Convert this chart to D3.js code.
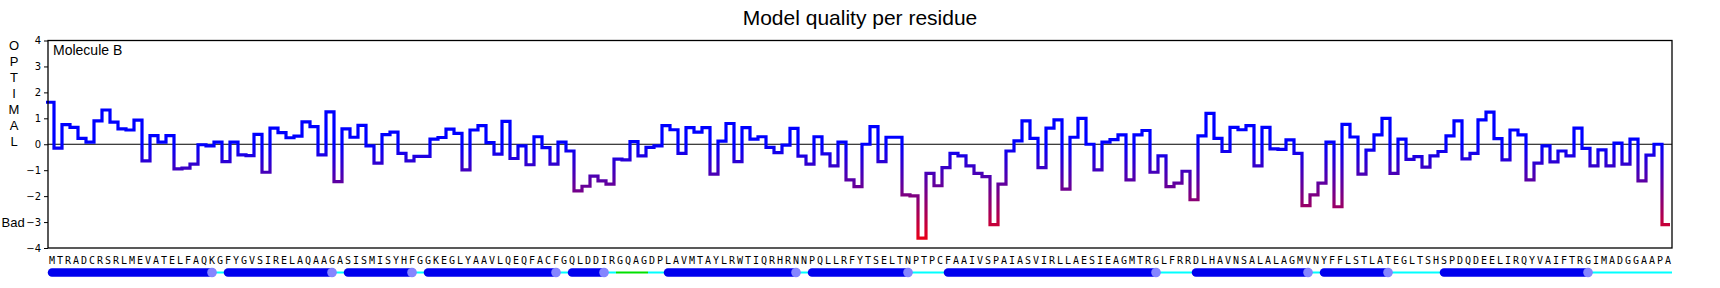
<!DOCTYPE html>
<html>
<head>
<meta charset="utf-8">
<title>Model quality per residue</title>
<style>
  body { margin: 0; background: #fff; }
  svg { display: block; background: #fff; }
  .y-axis text { font-family: "DejaVu Sans", sans-serif; font-size: 10px; fill: #000; }
  .y-axis line { stroke: #000; }
  .seq { font-family: "DejaVu Sans Mono", monospace; font-size: 10px; fill: #000; }
  .lbl { font-family: "Liberation Sans", Arial, sans-serif; fill: #000; }
</style>
</head>
<body>
<svg id="chart" width="1720" height="288"></svg>
<script src="https://cdn.jsdelivr.net/npm/d3@7/dist/d3.min.js"></script>
<script>
// residue sequence, one letter per residue
var sequence = ("MTRADCRSRLMEVATELFAQKGFYGVSIRELAQAAGASISMISYHFGGKEGLYAAVLQEQFACFGQLDDIR" +
                "GQAGDPLAVMTAYLRWTIQRHRNNPQLLRFYTSELTNPTPCFAAIVSPAIASVIRLLAESIEAGMTRGLFRR" +
                "DLHAVNSALALAGMVNYFFLSTLATEGLTSHSPDQDEELIRQYVAIFTRGIMADGGAAPA").split("");

// per residue quality score
var scores = [
   1.62, -0.15,  0.76,  0.65,  0.23,  0.08,  0.90,  1.32,  0.85,  0.59,
   0.55,  0.93, -0.64,  0.33,  0.08,  0.33, -0.95, -0.92, -0.77, -0.02,
  -0.06,  0.08, -0.67,  0.08, -0.41, -0.44,  0.38, -1.08,  0.62,  0.45,
   0.25,  0.31,  0.86,  0.68, -0.41,  1.25, -1.44,  0.59,  0.27,  0.73,
  -0.06, -0.73,  0.37,  0.47, -0.35, -0.64, -0.47, -0.47,  0.20,  0.26,
   0.58,  0.42, -0.99,  0.55,  0.72,  0.06, -0.38,  0.88, -0.55, -0.06,
  -0.79,  0.29, -0.13, -0.77,  0.08, -0.26, -1.80, -1.62, -1.23, -1.41,
  -1.54, -0.57, -0.60,  0.10, -0.45, -0.12, -0.06,  0.72,  0.56, -0.35,
   0.64,  0.47,  0.64, -1.15,  0.12,  0.80, -0.67,  0.64,  0.20,  0.29,
  -0.12, -0.32, -0.03,  0.61, -0.46, -0.77,  0.29, -0.37, -0.83,  0.08,
  -1.37, -1.63,  0.00,  0.68, -0.67,  0.27,  0.27, -1.95, -1.99, -3.62,
  -1.12, -1.60, -0.90, -0.35, -0.45, -0.83, -1.12, -1.25, -3.10, -1.54,
  -0.26,  0.13,  0.90,  0.23, -0.90,  0.62,  0.94, -1.73,  0.27,  1.00,
   0.00, -0.99,  0.08,  0.18,  0.36, -1.37,  0.36,  0.53, -1.08, -0.45,
  -1.63, -1.50, -1.04, -2.14,  0.32,  1.19,  0.23, -0.28,  0.65,  0.56,
   0.72, -0.83,  0.65, -0.18, -0.20,  0.17, -0.35, -2.37, -1.95, -1.50,
   0.08, -2.41,  0.77,  0.28, -1.15, -0.23,  0.36,  1.00, -1.12,  0.20,
  -0.58, -0.48, -0.88, -0.45, -0.28,  0.32,  0.90, -0.56, -0.35,  0.94,
   1.24,  0.22, -0.60,  0.55,  0.36, -1.37, -0.73, -0.06, -0.68, -0.26,
  -0.45,  0.62, -0.16, -0.83, -0.22, -0.83,  0.04, -0.77,  0.20, -1.41,
  -0.42,  0.00, -3.10
];

// secondary structure (first, last residue)
var helices = [[1, 21], [23, 36], [38, 46], [48, 64], [66, 70], [78, 94],
               [96, 108], [113, 139], [144, 158], [160, 168], [175, 193]];
var turns = [[72, 75]];

var yTicks = [-4, -3, -2, -1, 0, 1, 2, 3, 4];
var sideLabel = ["O", "P", "T", "I", "M", "A", "L"];

var svg = d3.select("#chart");
var n = sequence.length;

var x = d3.scaleLinear().domain([0.5, n + 0.5]).range([48, 1672]);
var y = d3.scaleLinear().domain([-4, 4]).range([248, 40.5]);

// colour of the score line runs from blue (good) to red (bad)
var defs = svg.append("defs");
var grad = defs.append("linearGradient")
    .attr("id", "scoreGrad")
    .attr("gradientUnits", "userSpaceOnUse")
    .attr("x1", 0).attr("x2", 0)
    .attr("y1", y(0)).attr("y2", y(-4));
grad.append("stop").attr("offset", "0%").attr("stop-color", "#0000ff");
grad.append("stop").attr("offset", "100%").attr("stop-color", "#ff0000");

// title
svg.append("text")
    .attr("class", "lbl")
    .attr("x", 860).attr("y", 25)
    .attr("text-anchor", "middle")
    .attr("font-size", 21)
    .text("Model quality per residue");

// y axis
var yAxis = d3.axisLeft(y).tickValues(yTicks).tickSize(4).tickPadding(3);
svg.append("g")
    .attr("class", "y-axis")
    .attr("transform", "translate(" + x(0.5) + ",0)")
    .call(yAxis)
    .call(g => g.select(".domain").remove());

// zero line
svg.append("line")
    .attr("x1", x(0.5)).attr("x2", x(n + 0.5))
    .attr("y1", y(0)).attr("y2", y(0))
    .attr("stroke", "#000").attr("stroke-width", 1);

// score line, one step per residue
var pts = scores.map((v, i) => ({ r: i + 0.5, v: v }));
pts.push({ r: n + 0.5, v: scores[n - 1] });
var line = d3.line()
    .x(d => x(d.r) - 2)
    .y(d => y(d.v))
    .curve(d3.curveStepAfter);
svg.append("path")
    .datum(pts)
    .attr("d", line)
    .attr("fill", "none")
    .attr("stroke", "url(#scoreGrad)")
    .attr("stroke-width", 3.2)
    .attr("stroke-linejoin", "miter");

// frame
svg.append("rect")
    .attr("x", x(0.5)).attr("y", y(4))
    .attr("width", x(n + 0.5) - x(0.5))
    .attr("height", y(-4) - y(4))
    .attr("fill", "none")
    .attr("stroke", "#000")
    .attr("stroke-width", 1.3);

svg.append("text")
    .attr("class", "lbl")
    .attr("x", 53).attr("y", 55)
    .attr("font-size", 14)
    .text("Molecule B");

// OPTIMAL / Bad labels on the left
svg.selectAll(".side")
    .data(sideLabel)
  .enter().append("text")
    .attr("class", "lbl side")
    .attr("x", 14)
    .attr("y", (d, i) => 49.5 + i * 16.1)
    .attr("text-anchor", "middle")
    .attr("font-size", 13)
    .text(d => d);

svg.append("text")
    .attr("class", "lbl")
    .attr("x", 1.5).attr("y", y(-3) + 4.5)
    .attr("font-size", 13)
    .text("Bad");

// sequence letters
svg.selectAll(".seq")
    .data(sequence)
  .enter().append("text")
    .attr("class", "seq")
    .attr("x", (d, i) => x(i + 1))
    .attr("y", 263.5)
    .attr("text-anchor", "middle")
    .text(d => d);

// secondary structure track
var ssY = 272.5;
var ssType = sequence.map(() => "coil");
turns.forEach(t => { for (var r = t[0]; r <= t[1]; r++) ssType[r - 1] = "turn"; });

svg.selectAll(".coil")
    .data(ssType)
  .enter().append("line")
    .attr("class", "coil")
    .attr("x1", (d, i) => x(i + 0.5))
    .attr("x2", (d, i) => x(i + 1.5))
    .attr("y1", ssY).attr("y2", ssY)
    .attr("stroke", d => d === "turn" ? "#00e000" : "#00ffff")
    .attr("stroke-width", 2);

svg.selectAll(".helix")
    .data(helices)
  .enter().append("line")
    .attr("class", "helix")
    .attr("x1", d => x(d[0]))
    .attr("x2", d => x(d[1]))
    .attr("y1", ssY).attr("y2", ssY)
    .attr("stroke", "#0000ee")
    .attr("stroke-width", 8.5)
    .attr("stroke-linecap", "round");

svg.selectAll(".helixEnd")
    .data(helices)
  .enter().append("circle")
    .attr("class", "helixEnd")
    .attr("cx", d => x(d[1]))
    .attr("cy", ssY)
    .attr("r", 4.8)
    .attr("fill", "#8585ff");
</script>
</body>
</html>
